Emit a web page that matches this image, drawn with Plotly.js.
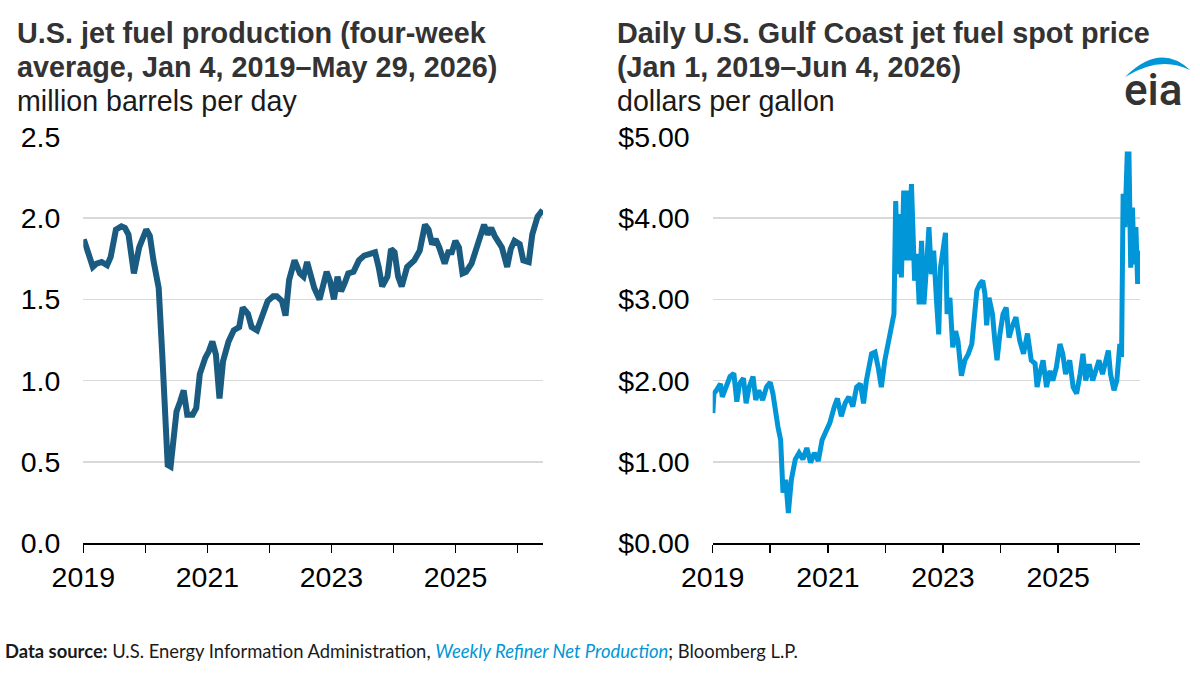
<!DOCTYPE html>
<html>
<head>
<meta charset="utf-8">
<script src="https://cdn.plot.ly/plotly-3.0.1.min.js"></script>
<style>html,body{margin:0;padding:0;background:#fff;}#chart{width:1200px;height:676px;}</style>
</head>
<body>
<div id="chart"></div>
<script>
// ---- Data: U.S. jet fuel production, four-week average (million barrels per day)
const prodDates = ["2019-01-04","2019-02-05","2019-02-26","2019-03-19","2019-04-19","2019-05-21","2019-06-11","2019-07-12","2019-08-13","2019-09-03","2019-09-24","2019-10-26","2019-11-26","2020-01-07","2020-01-28","2020-02-18","2020-03-10","2020-03-20","2020-04-10","2020-04-25","2020-05-12","2020-05-29","2020-06-12","2020-07-03","2020-07-24","2020-08-14","2020-09-04","2020-10-06","2020-10-27","2020-11-17","2020-12-19","2021-01-09","2021-01-30","2021-02-20","2021-03-13","2021-04-03","2021-05-05","2021-06-05","2021-07-07","2021-07-28","2021-08-28","2021-09-18","2021-10-20","2021-11-21","2021-12-22","2022-01-23","2022-02-13","2022-03-16","2022-04-06","2022-04-27","2022-05-29","2022-06-30","2022-07-21","2022-08-11","2022-09-01","2022-09-22","2022-10-23","2022-11-13","2022-12-04","2022-12-25","2023-01-16","2023-02-06","2023-02-27","2023-03-20","2023-04-10","2023-05-11","2023-06-12","2023-07-13","2023-08-14","2023-09-15","2023-10-06","2023-10-27","2023-11-27","2023-12-18","2024-01-08","2024-01-29","2024-02-19","2024-03-22","2024-05-03","2024-06-04","2024-07-05","2024-07-26","2024-08-16","2024-09-06","2024-09-27","2024-10-29","2024-11-19","2024-12-10","2024-12-31","2025-01-21","2025-02-11","2025-03-04","2025-04-05","2025-05-17","2025-06-18","2025-07-09","2025-07-30","2025-08-20","2025-09-10","2025-10-01","2025-11-01","2025-11-22","2025-12-14","2026-01-14","2026-02-04","2026-03-08","2026-03-29","2026-04-29","2026-05-29"];
const prodValues = [1.87,1.76,1.70,1.72,1.73,1.71,1.76,1.93,1.95,1.94,1.90,1.66,1.82,1.93,1.89,1.74,1.62,1.57,1.16,0.75,0.48,0.47,0.62,0.81,0.87,0.94,0.79,0.79,0.83,1.04,1.14,1.18,1.24,1.16,0.89,1.12,1.24,1.31,1.33,1.45,1.41,1.33,1.31,1.39,1.49,1.52,1.52,1.49,1.40,1.62,1.74,1.66,1.64,1.73,1.66,1.57,1.50,1.57,1.67,1.61,1.50,1.64,1.55,1.60,1.66,1.67,1.74,1.77,1.78,1.79,1.70,1.58,1.64,1.81,1.79,1.64,1.58,1.70,1.74,1.80,1.96,1.93,1.84,1.87,1.82,1.72,1.79,1.79,1.86,1.82,1.66,1.67,1.72,1.86,1.96,1.90,1.94,1.89,1.85,1.82,1.70,1.81,1.86,1.84,1.74,1.73,1.90,2.01,2.05];

// ---- Data: Daily U.S. Gulf Coast jet fuel spot price (dollars per gallon)
const priceDates = ["2019-01-02","2019-01-09","2019-01-25","2019-02-19","2019-03-03","2019-03-27","2019-04-21","2019-05-15","2019-06-03","2019-06-20","2019-07-15","2019-08-01","2019-08-20","2019-09-14","2019-10-01","2019-10-20","2019-11-14","2019-12-08","2020-01-01","2020-01-18","2020-02-02","2020-02-19","2020-03-07","2020-03-22","2020-04-08","2020-04-25","2020-05-14","2020-06-08","2020-07-02","2020-07-26","2020-08-20","2020-09-13","2020-10-07","2020-11-01","2020-11-25","2020-12-19","2021-01-13","2021-02-11","2021-03-02","2021-03-27","2021-04-20","2021-05-14","2021-06-08","2021-07-02","2021-07-26","2021-08-15","2021-09-02","2021-10-05","2021-10-27","2021-11-16","2021-12-06","2021-12-28","2022-01-19","2022-02-09","2022-02-24","2022-03-07","2022-03-21","2022-04-01","2022-04-12","2022-04-27","2022-05-11","2022-05-19","2022-05-30","2022-06-15","2022-06-24","2022-07-05","2022-07-20","2022-08-03","2022-08-18","2022-09-02","2022-09-18","2022-10-04","2022-10-19","2022-11-03","2022-11-21","2022-12-05","2022-12-16","2023-01-02","2023-01-17","2023-01-27","2023-02-14","2023-03-04","2023-03-22","2023-04-06","2023-04-28","2023-05-20","2023-06-11","2023-07-03","2023-07-21","2023-08-04","2023-08-23","2023-09-10","2023-09-24","2023-10-05","2023-10-20","2023-11-11","2023-11-26","2023-12-10","2023-12-28","2024-01-17","2024-02-06","2024-02-24","2024-03-14","2024-04-08","2024-05-02","2024-05-26","2024-06-20","2024-07-14","2024-08-07","2024-08-20","2024-09-05","2024-09-27","2024-10-19","2024-11-10","2024-11-28","2024-12-20","2025-01-12","2025-01-30","2025-02-17","2025-03-15","2025-04-06","2025-04-28","2025-05-20","2025-06-07","2025-06-25","2025-07-17","2025-08-08","2025-08-26","2025-09-17","2025-10-09","2025-10-31","2025-11-15","2025-11-29","2025-12-21","2026-01-08","2026-01-27","2026-02-07","2026-02-17","2026-02-28","2026-03-15","2026-03-26","2026-04-06","2026-04-17","2026-04-28","2026-05-09","2026-05-20","2026-05-27","2026-06-04"];
const priceValues = [1.60,1.84,1.88,1.96,1.80,1.94,2.05,2.09,1.74,1.96,2.03,1.72,1.92,2.05,1.76,1.88,1.76,1.92,1.98,1.84,1.60,1.43,1.27,0.62,0.78,0.37,0.78,1.03,1.11,1.03,1.17,0.99,1.11,1.01,1.27,1.37,1.48,1.68,1.78,1.56,1.72,1.80,1.68,1.92,1.96,1.72,2.00,2.33,2.35,2.16,1.92,2.25,2.49,2.74,2.82,4.21,3.31,4.05,3.27,4.34,3.48,4.34,3.48,4.42,3.93,3.23,3.56,2.94,3.72,2.94,3.39,3.89,3.31,3.60,2.98,2.57,3.39,3.64,3.82,2.82,3.02,2.41,2.61,2.49,2.06,2.25,2.33,2.45,2.82,3.11,3.19,3.23,3.07,2.68,3.02,2.82,2.49,2.25,2.57,2.82,2.90,2.53,2.66,2.78,2.49,2.33,2.58,2.25,2.21,1.92,2.08,2.25,1.92,2.12,2.00,2.16,2.45,2.33,2.08,2.25,1.92,1.84,2.08,2.33,2.00,2.20,2.00,2.12,2.25,2.08,2.29,2.37,2.08,1.88,2.00,2.45,2.29,4.30,3.89,4.79,4.79,3.39,4.13,3.43,3.89,3.19,3.60,3.45];

// ---- Tick labels
const prodTickVals = [0, 0.5, 1.0, 1.5, 2.0, 2.5];
const prodTickText = ["0.0", "0.5", "1.0", "1.5", "2.0", "2.5"];
const priceTickVals = [0, 1, 2, 3, 4, 5];
const priceTickText = ["$0.00", "$1.00", "$2.00", "$3.00", "$4.00", "$5.00"];

// ---- Text
const leftTitle = ["U.S. jet fuel production (four-week", "average, Jan 4, 2019\u2013May 29, 2026)"];
const leftUnit = "million barrels per day";
const rightTitle = ["Daily U.S. Gulf Coast jet fuel spot price", "(Jan 1, 2019\u2013Jun 4, 2026)"];
const rightUnit = "dollars per gallon";
const footer = "<b>Data source:</b> U.S. Energy Information Administration, <i><span style='color:#0096d7'>Weekly Refiner Net Production</span></i>; Bloomberg L.P.";

const W = 1200, H = 676;
const fx = p => p / W;
const fy = p => 1 - p / H;
const FONT = "Liberation Sans, Arial, sans-serif";

const yDomain = [fy(543), fy(137)];

const xCommon = {
  type: "date",
  tickformat: "%Y",
  dtick: "M24",
  tick0: "2019-01-01",
  ticks: "outside",
  ticklen: 8,
  tickwidth: 1.5,
  tickcolor: "#000",
  showline: true,
  linecolor: "#000",
  linewidth: 1.5,
  showgrid: false,
  zeroline: false,
  tickfont: {family: FONT, size: 28.5, color: "#000"},
  minor: {dtick: "M12", tick0: "2019-01-01", ticks: "outside", ticklen: 8, tickwidth: 1.5, tickcolor: "#000", showgrid: false},
  fixedrange: true
};
const yCommon = {
  domain: yDomain,
  showline: false,
  ticks: "",
  showgrid: true,
  gridcolor: "#d9d9d9",
  gridwidth: 1.5,
  zeroline: false,
  tickfont: {family: FONT, size: 28.5, color: "#000"},
  ticklabelstandoff: 22,
  tickmode: "array",
  fixedrange: true
};

const traces = [
  {x: prodDates, y: prodValues, type: "scatter", mode: "lines", xaxis: "x", yaxis: "y",
   line: {color: "#1a5b82", width: 6}, hoverinfo: "skip"},
  {x: priceDates, y: priceValues, type: "scatter", mode: "lines", xaxis: "x2", yaxis: "y2",
   line: {color: "#0096d7", width: 5}, hoverinfo: "skip"}
];

function titleAnn(text, x, y, bold, color, size) {
  return {text: bold ? "<b>" + text + "</b>" : text, xref: "paper", yref: "paper",
    x: fx(x), y: fy(y), xanchor: "left", yanchor: "middle", showarrow: false,
    font: {family: FONT, size: size, color: color}};
}

const annotations = [
  titleAnn(leftTitle[0], 15, 33, true, "#333333", 28.8),
  titleAnn(leftTitle[1], 15, 67, true, "#333333", 28.8),
  titleAnn(leftUnit, 15, 101, false, "#1a1a1a", 28.6),
  titleAnn(rightTitle[0], 615, 33, true, "#333333", 28.8),
  titleAnn(rightTitle[1], 615, 67, true, "#333333", 28.8),
  titleAnn(rightUnit, 615, 101, false, "#1a1a1a", 28.6),
  {text: footer, xref: "paper", yref: "paper", x: fx(3), y: fy(651), xanchor: "left", yanchor: "middle",
   showarrow: false, font: {family: "Lato, Noto Sans, sans-serif", size: 18.4, color: "#1a1a1a"}},
  {text: "eia", xref: "paper", yref: "paper", x: fx(1153), y: fy(90), xanchor: "center", yanchor: "middle",
   showarrow: false, font: {family: "Roboto, Liberation Sans, sans-serif", size: 44, weight: 500, color: "#333333"}}
];

// EIA logo swoosh (crescent), pixel coordinates converted to paper
const swoosh = [[1125,77],[1160,42],[1190,70],[1160,55],[1125,77]];
const swooshPath = "M" + fx(swoosh[0][0]) + "," + fy(swoosh[0][1]) +
  " Q" + fx(swoosh[1][0]) + "," + fy(swoosh[1][1]) + " " + fx(swoosh[2][0]) + "," + fy(swoosh[2][1]) +
  " Q" + fx(swoosh[3][0]) + "," + fy(swoosh[3][1]) + " " + fx(swoosh[4][0]) + "," + fy(swoosh[4][1]) + " Z";

const layout = {
  width: W, height: H,
  margin: {l: 0, r: 0, t: 0, b: 0},
  paper_bgcolor: "#fff", plot_bgcolor: "#fff",
  showlegend: false,
  xaxis: Object.assign({}, xCommon, {domain: [fx(83.3), fx(543)], range: ["2019-01-01", "2026-05-31"], anchor: "y"}),
  yaxis: Object.assign({}, yCommon, {range: [0, 2.5], tickvals: prodTickVals, ticktext: prodTickText, anchor: "x"}),
  xaxis2: Object.assign({}, xCommon, {domain: [fx(712.7), fx(1140)], range: ["2019-01-01", "2026-06-04"], anchor: "y2"}),
  yaxis2: Object.assign({}, yCommon, {range: [0, 5], tickvals: priceTickVals, ticktext: priceTickText, anchor: "x2"}),
  annotations: annotations,
  shapes: [{type: "path", path: swooshPath, xref: "paper", yref: "paper", fillcolor: "#0096d7", line: {width: 0}}]
};

Plotly.newPlot("chart", traces, layout, {staticPlot: true, displayModeBar: false});
</script>
</body>
</html>
